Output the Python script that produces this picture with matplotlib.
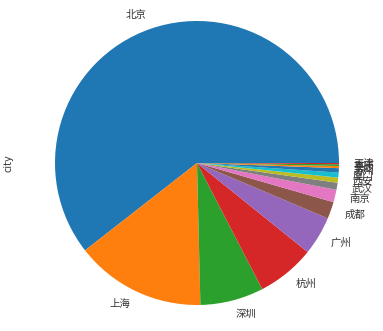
import matplotlib
matplotlib.use("Agg")
import matplotlib.pyplot as plt

plt.rcParams['font.family'] = ['Noto Sans CJK SC', 'DejaVu Sans']

# job counts per city
cities = ['北京', '上海', '深圳', '杭州', '广州', '成都', '南京', '武汉',
          '西安', '厦门', '苏州', '长沙', '重庆', '天津']
counts = [302, 74, 36, 33, 22, 9.6, 7.1, 4.0, 2.9, 2.8, 2.5, 1.2, 1.0, 0.7]

fig = plt.figure(figsize=(3.83, 3.31), dpi=100)
W, H = 383, 331
R = 142.0
cx, cy = 197, 168  # centre in px from left / bottom
xr, yr = 1.2, 1.15
ax = fig.add_axes([(cx - xr * R) / W, (cy - yr * R) / H, 2 * xr * R / W, 2 * yr * R / H])

wedges, texts = ax.pie(counts, labels=cities, startangle=0, counterclock=True,
                       textprops={'fontsize': 7.5, 'color': '#333333'})
ax.set_xlim(-xr, xr)
ax.set_ylim(-yr, yr)
ax.set_aspect('auto')
ax.set_ylabel('city', fontsize=7, family='DejaVu Sans', color='#333333')
ax.yaxis.set_label_coords((13 - (cx - xr * R)) / (2 * xr * R), 0.5)

fig.savefig('out.png', dpi=100)
